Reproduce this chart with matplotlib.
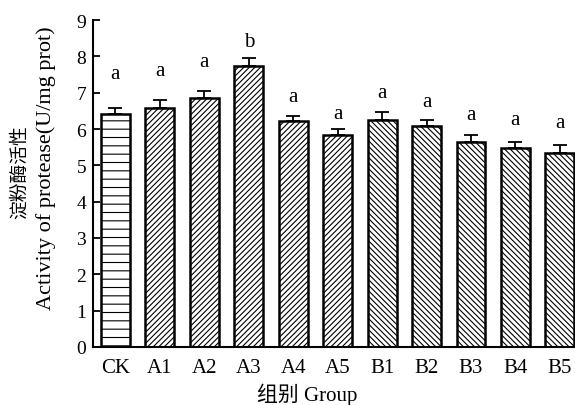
import numpy as np
import matplotlib.pyplot as plt

plt.rcParams['font.family'] = ['Liberation Serif', 'Noto Sans CJK SC']
plt.rcParams['hatch.linewidth'] = 0.8

grupe = ['CK', 'A1', 'A2', 'A3', 'A4', 'A5', 'B1', 'B2', 'B3', 'B4', 'B5']
activitate = [6.42, 6.59, 6.85, 7.75, 6.21, 5.84, 6.24, 6.08, 5.64, 5.48, 5.34]
eroare = [0.16, 0.21, 0.20, 0.21, 0.15, 0.17, 0.24, 0.16, 0.20, 0.15, 0.21]
litere = ['a', 'a', 'a', 'b', 'a', 'a', 'a', 'a', 'a', 'a', 'a']
inaltime_litere = [7.52, 7.60, 7.85, 8.40, 6.89, 6.42, 7.02, 6.75, 6.39, 6.25, 6.17]
hasuri = ['--', '//////', '//////', '//////', '//////', '//////',
          '\\\\\\\\\\\\', '\\\\\\\\\\\\', '\\\\\\\\\\\\', '\\\\\\\\\\\\', '\\\\\\\\\\\\']

x = np.arange(len(grupe))

fig = plt.figure(figsize=(5.75, 4.06), dpi=100)
ax = fig.add_axes([0.162, 0.143, 0.838, 0.805])

bare = ax.bar(x, activitate, width=0.65, color='white', edgecolor='black', linewidth=1.8)
for b, h in zip(bare, hasuri):
    b.set_hatch(h)

ax.errorbar(x, activitate, yerr=[np.zeros(len(eroare)), eroare], fmt='none',
            ecolor='black', elinewidth=1.3, capsize=5, capthick=1.3)

for xi, yl, lit in zip(x, inaltime_litere, litere):
    ax.text(xi, yl, lit, ha='center', va='center', fontsize=15)

ax.set_xlim(-0.5, 10.34)
ax.set_ylim(0, 9)
ax.set_yticks(range(0, 10))
ax.set_xticks(x)
ax.set_xticklabels(grupe)
ax.tick_params(axis='y', direction='in', length=5, width=1.3, labelsize=14, pad=5)
ax.tick_params(axis='x', length=0, labelsize=15, pad=8)

ax.spines['top'].set_visible(False)
ax.spines['right'].set_visible(False)
ax.spines['left'].set_linewidth(1.5)
ax.spines['bottom'].set_linewidth(1.5)

fig.text(307 / 575, 1 - 395 / 406, '组别 Group', ha='center', va='center', fontsize=15)
fig.text(20 / 575, 1 - 172 / 406, '淀粉酶活性', rotation=90, ha='center', va='center', fontsize=13.5)
fig.text(46 / 575, 1 - 168 / 406, 'Activity of protease(U/mg prot)', rotation=90,
         ha='center', va='center', fontsize=16)

plt.savefig('out.png', dpi=100)
